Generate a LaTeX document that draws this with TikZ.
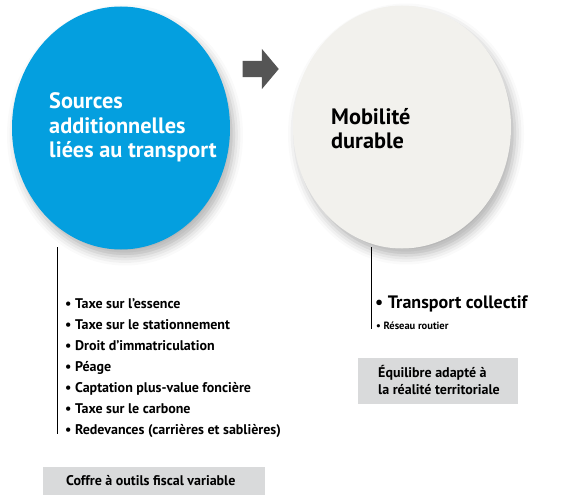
\documentclass[tikz,border=0pt]{standalone}
\usepackage{fontspec}
\setmainfont{PT Sans}
\usetikzlibrary{shapes.geometric,shapes.arrows,shadows.blur}
\definecolor{sourceblue}{HTML}{049FDF}
\definecolor{mobgrey}{HTML}{F2F1ED}
\definecolor{arrowgrey}{HTML}{555555}
\definecolor{boxgrey}{HTML}{D9DADB}
\begin{document}
\begin{tikzpicture}[x=1pt,y=-1pt,
bubble/.style={ellipse, minimum width=218pt, minimum height=243pt, inner sep=0pt,
  blur shadow={shadow xshift=4pt, shadow yshift=-7pt, shadow blur radius=9pt, shadow opacity=30}},
titlenode/.style={align=left, anchor=base west, inner sep=0pt, font=\bfseries\fontsize{22.3}{24}\selectfont},
listnode/.style={align=left, anchor=base west, inner sep=0pt, font=\bfseries\fontsize{14}{21}\selectfont},
boxnode/.style={fill=boxgrey, anchor=north west, inner sep=0pt},
]
    \useasboundingbox (0,0) rectangle (584,495);
    \node[bubble, fill=sourceblue](sources) at (121,128) {};
    \node[bubble, fill=mobgrey](mobilite) at (402,127) {};
    \node[single arrow, fill=arrowgrey, minimum height=36pt, text height=16pt, text depth=0pt,
      single arrow head extend=12pt, single arrow tip angle=100, inner sep=0pt, anchor=tip](fleche) at (279,69) {};

    % base anchor = last line
    \node[titlenode, white](st) at (49,157) {Sources\\additionnelles\\liées au transport};
    \node[titlenode](mt) at (331,148) {Mobilité\\durable};

    \draw[line width=0.8pt] (57,247) -- (57,434);
    \draw[line width=0.8pt] (371,247) -- (371,329);

    \node[listnode](outils) at (65,434) {• Taxe sur l’essence\\
      • Taxe sur le stationnement\\
      • Droit d’immatriculation\\
      • Péage\\
      • Captation plus-value foncière\\
      • Taxe sur le carbone\\
      • Redevances (carrières et sablières)};
    \node[anchor=base west, inner sep=0pt, font=\bfseries\fontsize{18}{20}\selectfont](tc) at (375,308) {• Transport collectif};
    \node[anchor=base west, inner sep=0pt, font=\bfseries\fontsize{10.5}{12}\selectfont](rr) at (376,329) {• Réseau routier};

    \node[boxnode, minimum width=222pt, minimum height=28pt](coffre) at (43,467) {};
    \node[listnode](coffretxt) at (66,485) {Coffre à outils fiscal variable};
    \node[boxnode, minimum width=160pt, minimum height=46pt](equilibre) at (358,358) {};
    \node[titlenode, font=\bfseries\fontsize{14}{17}\selectfont](eqtxt) at (378,394) {Équilibre adapté à\\la réalité territoriale};
\end{tikzpicture}
\end{document}
